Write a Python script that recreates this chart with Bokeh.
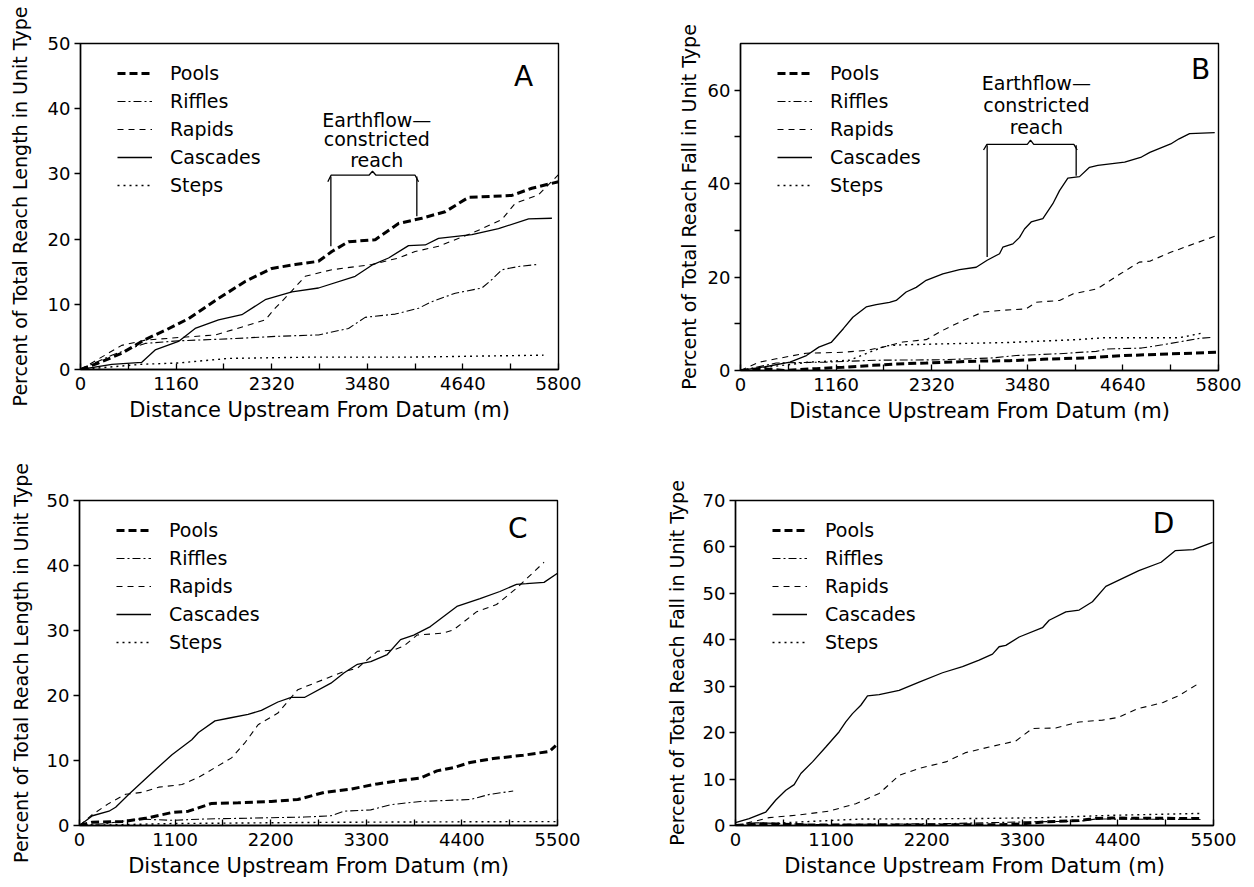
from bokeh.plotting import figure
from bokeh.models import Range1d, FixedTicker, Legend, LegendItem, Label
from bokeh.layouts import column, row
from bokeh.embed import file_html
from bokeh.resources import INLINE
from bokeh.core.properties import value

FONT = "DejaVu Sans"
SERIES = ["Pools", "Riffles", "Rapids", "Cascades", "Steps"]

# ---------------- Panel A: % of total reach length (5800 m reach) -------------
a_pools_x = [0, 218, 502, 785, 1027, 1311, 1675, 1998, 2322, 2605, 2888, 3050, 3252, 3576, 3859, 4142, 4425, 4708, 5234, 5477, 5800]
a_pools_y = [0, 1.0, 2.5, 4.6, 6.0, 7.8, 10.9, 13.5, 15.5, 16.1, 16.6, 18.1, 19.6, 19.9, 22.4, 23.2, 24.2, 26.4, 26.7, 27.8, 28.8]
a_riffles_x = [0, 380, 785, 1189, 1796, 2403, 2888, 3252, 3454, 3819, 4102, 4264, 4547, 4870, 4992, 5113, 5315, 5538]
a_riffles_y = [0, 2.2, 4.0, 4.4, 4.7, 5.1, 5.3, 6.3, 8.0, 8.5, 9.4, 10.4, 11.7, 12.5, 13.8, 15.3, 15.8, 16.1]
a_rapids_x = [0, 500, 785, 1189, 1634, 1877, 2241, 2362, 2524, 2726, 3050, 3535, 3859, 4061, 4344, 4749, 5113, 5275, 5558, 5800]
a_rapids_y = [0, 3.7, 4.5, 4.9, 5.3, 6.2, 7.6, 9.4, 11.5, 14.3, 15.3, 16.1, 17.1, 18.1, 18.9, 20.9, 23.0, 25.5, 26.8, 29.9]
a_casc_x = [0, 380, 744, 906, 1189, 1391, 1675, 1958, 2241, 2565, 2888, 3333, 3535, 3738, 3980, 4183, 4344, 4749, 5072, 5437, 5720]
a_casc_y = [0, 0.8, 1.1, 3.0, 4.3, 6.3, 7.6, 8.4, 10.7, 11.9, 12.5, 14.3, 16.0, 17.1, 19.0, 19.1, 20.1, 20.7, 21.6, 23.1, 23.2]
a_steps_x = [0, 744, 1189, 1796, 2807, 4021, 5619]
a_steps_y = [0, 0.8, 1.0, 1.7, 1.9, 1.9, 2.2]

# ---------------- Panel B: % of total reach fall (5800 m reach) ---------------
b_pools_x = [0, 300, 554, 918, 1242, 1606, 1889, 2253, 2860, 3264, 3669, 4195, 4661, 5781]
b_pools_y = [0, 0.3, 0.0, 0.4, 0.7, 1.1, 1.4, 1.6, 2.0, 2.1, 2.4, 2.7, 3.2, 3.9]
b_riffles_x = [0, 433, 1040, 1646, 2455, 3062, 3345, 3871, 4316, 4447, 4865, 5119, 5577, 5733]
b_riffles_y = [0, 1.6, 1.8, 2.2, 2.3, 2.7, 3.2, 3.6, 4.1, 4.6, 4.8, 5.5, 6.9, 7.1]
b_rapids_x = [0, 230, 433, 797, 1242, 1525, 1727, 1970, 2253, 2455, 2698, 2941, 3183, 3467, 3588, 3871, 4033, 4331, 4610, 4839, 4967, 5220, 5781]
b_rapids_y = [0, 1.8, 2.5, 3.7, 3.9, 4.3, 5.0, 6.1, 6.6, 8.6, 10.7, 12.5, 12.9, 13.2, 14.6, 15.0, 16.4, 17.5, 20.7, 23.2, 23.4, 25.3, 28.9]
b_casc_x = [0, 300, 600, 800, 950, 1100, 1250, 1363, 1525, 1646, 1808, 1889, 2010, 2132, 2253, 2455, 2658, 2860, 2993, 3143, 3183, 3305, 3386, 3446, 3527, 3669, 3790, 3871, 3972, 4114, 4235, 4336, 4661, 4865, 4967, 5220, 5322, 5449, 5754]
b_casc_y = [0, 0.8, 1.8, 3.2, 5.0, 6.0, 9.0, 11.4, 13.6, 14.1, 14.6, 15.0, 16.8, 17.8, 19.3, 20.7, 21.6, 22.1, 23.6, 25.0, 26.4, 27.1, 28.5, 30.3, 31.8, 32.5, 35.7, 38.5, 41.2, 41.5, 43.5, 43.9, 44.6, 45.7, 46.7, 48.5, 49.6, 50.7, 50.9]
b_steps_x = [0, 837, 1323, 1565, 1768, 1970, 2455, 3264, 4073, 4406, 5322, 5628]
b_steps_y = [0, 1.8, 2.2, 3.9, 5.3, 5.5, 5.7, 6.0, 6.6, 7.0, 7.0, 8.1]

# ---------------- Panel C: % of total reach length (5500 m reach) -------------
c_pools_x = [0, 149, 492, 759, 1064, 1254, 1521, 1826, 2207, 2512, 2817, 3122, 3427, 3732, 3922, 4113, 4304, 4494, 4761, 5104, 5406, 5480]
c_pools_y = [0, 0.5, 0.6, 1.1, 2.0, 2.2, 3.4, 3.5, 3.7, 4.0, 5.1, 5.6, 6.4, 7.0, 7.3, 8.4, 8.9, 9.7, 10.3, 10.8, 11.4, 12.3]
c_riffles_x = [0, 301, 682, 1064, 1445, 1826, 2207, 2588, 2893, 3046, 3351, 3579, 3922, 4304, 4494, 4723, 4990]
c_riffles_y = [0, 0.3, 1.0, 0.8, 1.0, 1.1, 1.2, 1.3, 1.5, 2.2, 2.4, 3.2, 3.7, 3.9, 4.0, 4.8, 5.3]
c_rapids_x = [0, 149, 339, 530, 720, 911, 1178, 1369, 1559, 1750, 1902, 2055, 2283, 2512, 2665, 2855, 3046, 3198, 3427, 3617, 3732, 3884, 4189, 4304, 4571, 4799, 5028, 5345]
c_rapids_y = [0, 1.7, 3.4, 4.8, 5.1, 5.9, 6.3, 7.4, 8.9, 10.4, 12.7, 15.5, 17.3, 20.9, 21.7, 22.7, 23.7, 24.2, 26.8, 27.0, 27.6, 29.3, 29.6, 30.1, 32.9, 34.0, 36.5, 40.5]
c_casc_x = [0, 149, 339, 416, 568, 835, 1064, 1292, 1369, 1559, 1712, 1940, 2093, 2283, 2436, 2588, 2893, 3046, 3198, 3351, 3541, 3694, 3846, 4037, 4342, 4609, 4837, 5028, 5142, 5345, 5500]
c_casc_y = [0, 1.5, 2.2, 2.8, 4.8, 8.1, 10.9, 13.2, 14.3, 16.1, 16.5, 17.1, 17.7, 19.0, 19.7, 19.7, 21.9, 23.5, 24.8, 25.2, 26.3, 28.6, 29.3, 30.6, 33.7, 34.9, 36.0, 37.1, 37.2, 37.4, 38.8]
c_steps_x = [0, 1064, 2970, 5104, 5500]
c_steps_y = [0, 0.3, 0.5, 0.6, 0.6]

# ---------------- Panel D: % of total reach fall (5500 m reach) ---------------
d_pools_x = [0, 311, 886, 2036, 3187, 3570, 3954, 4145, 4337, 5350]
d_pools_y = [0, 0.4, 0.1, 0.1, 0.2, 0.8, 1.1, 1.5, 1.6, 1.5]
d_riffles_x = [0, 234, 886, 2420, 3379, 3954, 4145, 5350]
d_riffles_y = [0, 0.6, 0.2, 0.4, 0.8, 0.9, 1.4, 1.3]
d_rapids_x = [0, 196, 387, 694, 1078, 1384, 1653, 1883, 2113, 2420, 2650, 2918, 3225, 3417, 3685, 3954, 4222, 4409, 4619, 4920, 5105, 5338]
d_rapids_y = [0, 0.8, 1.7, 2.2, 3.1, 4.7, 6.9, 10.8, 12.3, 13.7, 15.7, 16.9, 18.2, 20.9, 21.0, 22.3, 22.7, 23.3, 25.1, 26.5, 28.0, 30.7]
d_casc_x = [0, 157, 349, 464, 579, 675, 752, 886, 1039, 1193, 1269, 1346, 1442, 1519, 1653, 1883, 2113, 2382, 2612, 2803, 2957, 3033, 3110, 3264, 3532, 3609, 3801, 3954, 4107, 4261, 4641, 4897, 5059, 5267, 5490]
d_casc_y = [0.6, 1.5, 2.9, 5.5, 7.6, 8.8, 11.2, 13.7, 16.9, 20.2, 22.3, 24.1, 25.9, 27.9, 28.2, 29.1, 30.9, 32.9, 34.2, 35.6, 36.9, 38.5, 38.8, 40.6, 42.6, 44.2, 46.0, 46.4, 48.2, 51.5, 54.9, 56.7, 59.2, 59.4, 61.0]
d_steps_x = [0, 886, 1461, 2803, 3570, 4337, 5338]
d_steps_y = [0, 0.9, 1.4, 1.5, 1.7, 2.2, 2.6]

# ---------------- axes ---------------------------------------------------------
ab_xticks = [0, 1160, 2320, 3480, 4640, 5800]
cd_xticks = [0, 1100, 2200, 3300, 4400, 5500]
a_yticks = [0, 10, 20, 30, 40, 50]
b_yticks = [0, 20, 40, 60]
c_yticks = [0, 10, 20, 30, 40, 50]
d_yticks = [0, 10, 20, 30, 40, 50, 60, 70]
y_len_label = "Percent of Total Reach Length in Unit Type"
y_fall_label = "Percent of Total Reach Fall in Unit Type"
x_label = "Distance Upstream From Datum (m)"

# ---------------- annotations (Earthflow-constricted reach) --------------------
earth_lines = ["Earthflow\u2014", "constricted", "reach"]
a_brace_x = [3001, 3040, 3500, 3543, 3586, 4060, 4102]
a_brace_y = [28.8, 29.8, 29.8, 30.4, 29.8, 29.8, 28.8]
a_lead_x = [3038, 4081]
a_lead_top = [29.6, 29.6]
a_lead_bot = [18.9, 23.5]
a_text_x = 3595
a_text_y = [38.3, 35.3, 32.2]
b_brace_x = [2949, 2990, 3480, 3519, 3558, 4045, 4085]
b_brace_y = [47.2, 48.4, 48.4, 49.3, 48.4, 48.4, 47.2]
b_lead_x = [2993, 4073]
b_lead_top = [48.2, 48.2]
b_lead_bot = [24.3, 41.7]
b_text_x = 3590
b_text_y = [61.5, 56.8, 52.2]

STYLES = {
    "Pools":    dict(line_width=3.0, line_dash="8 4"),
    "Riffles":  dict(line_width=1.1, line_dash="8 3 2 3"),
    "Rapids":   dict(line_width=1.1, line_dash="6 5"),
    "Cascades": dict(line_width=1.3, line_dash="solid"),
    "Steps":    dict(line_width=1.4, line_dash="2 4"),
}

FRAME_W = 478


def make_panel(series, xmax, xticks, ymax, yticks, yminor, ylabel, letter, letter_xy,
               frame_h, left, right, top, bottom, ylab_standoff):
    p = figure(frame_width=FRAME_W, frame_height=frame_h,
               min_border_left=left, min_border_right=right,
               min_border_top=top, min_border_bottom=bottom,
               x_range=Range1d(0, xmax), y_range=Range1d(0, ymax),
               toolbar_location=None, output_backend="svg",
               background_fill_color="white", border_fill_color="white")
    p.outline_line_color = "black"
    p.outline_line_width = 1.4
    p.xgrid.visible = False
    p.ygrid.visible = False

    xminor = [(xticks[i] + xticks[i + 1]) / 2 for i in range(len(xticks) - 1)]
    p.xaxis.ticker = FixedTicker(ticks=xticks, minor_ticks=xminor)
    p.yaxis.ticker = FixedTicker(ticks=yticks, minor_ticks=yminor)
    for ax in (p.xaxis[0], p.yaxis[0]):
        ax.axis_line_color = "black"
        ax.axis_line_width = 1.4
        ax.major_tick_line_color = "black"
        ax.minor_tick_line_color = "black"
        ax.major_tick_line_width = 1.3
        ax.minor_tick_line_width = 1.3
        ax.major_label_text_font = FONT
        ax.major_label_text_font_size = "18px"
        ax.major_label_text_color = "black"
        ax.axis_label_text_font = FONT
        ax.axis_label_text_font_style = "normal"
        ax.axis_label_text_color = "black"
    xa = p.xaxis[0]
    xa.major_tick_in = 6
    xa.major_tick_out = 0
    xa.minor_tick_in = 6
    xa.minor_tick_out = 0
    xa.major_label_standoff = 7
    xa.axis_label = x_label
    xa.axis_label_text_font_size = "21px"
    xa.axis_label_standoff = 5
    ya = p.yaxis[0]
    ya.major_tick_in = 0
    ya.major_tick_out = 6
    ya.minor_tick_in = 0
    ya.minor_tick_out = 6
    ya.major_label_standoff = 4
    ya.axis_label = ylabel
    ya.axis_label_text_font_size = "19px"
    ya.axis_label_standoff = ylab_standoff

    items = []
    for name, (xs, ys) in zip(SERIES, series):
        r = p.line(xs, ys, line_color="black", **STYLES[name])
        items.append(LegendItem(label=name, renderers=[r]))

    n = len(items)
    item_h, gap = 22, 6
    leg_h = n * item_h + (n - 1) * gap
    legend = Legend(items=items, location=(37, frame_h - 19 - leg_h),
                    orientation="vertical", padding=0, margin=0, spacing=gap,
                    glyph_width=35, glyph_height=20, label_height=20,
                    label_standoff=18, label_text_font=FONT,
                    label_text_font_size="19px", label_text_color="black",
                    border_line_alpha=0, background_fill_alpha=0)
    p.add_layout(legend, "center")

    p.add_layout(Label(x=letter_xy[0], y=letter_xy[1], text=letter,
                       text_font=FONT, text_font_size="28px", text_color="black",
                       text_align="center", text_baseline="middle"))
    return p


def add_earthflow(p, brace_x, brace_y, lead_x, lead_top, lead_bot, text_x, text_y):
    p.line(brace_x, brace_y, line_color="black", line_width=1.3)
    p.segment(x0=lead_x, y0=lead_top, x1=lead_x, y1=lead_bot,
              line_color="black", line_width=1.3)
    p.text(x=[text_x] * len(earth_lines), y=text_y, text=earth_lines,
           text_font=value(FONT), text_font_size="19px", text_color="black",
           text_align="center", text_baseline="middle")


pA = make_panel([(a_pools_x, a_pools_y), (a_riffles_x, a_riffles_y), (a_rapids_x, a_rapids_y),
                 (a_casc_x, a_casc_y), (a_steps_x, a_steps_y)],
                5800, ab_xticks, 50, a_yticks, [], y_len_label, "A", (5375, 44.9),
                326, 80, 50, 42, 60, 14)
add_earthflow(pA, a_brace_x, a_brace_y, a_lead_x, a_lead_top, a_lead_bot, a_text_x, a_text_y)

pB = make_panel([(b_pools_x, b_pools_y), (b_riffles_x, b_riffles_y), (b_rapids_x, b_rapids_y),
                 (b_casc_x, b_casc_y), (b_steps_x, b_steps_y)],
                5800, ab_xticks, 70, b_yticks, [10, 30, 50], y_fall_label, "B", (5582, 64.4),
                327, 132, 28, 43, 58, 5)
add_earthflow(pB, b_brace_x, b_brace_y, b_lead_x, b_lead_top, b_lead_bot, b_text_x, b_text_y)

pC = make_panel([(c_pools_x, c_pools_y), (c_riffles_x, c_riffles_y), (c_rapids_x, c_rapids_y),
                 (c_casc_x, c_casc_y), (c_steps_x, c_steps_y)],
                5500, cd_xticks, 50, c_yticks, [], y_len_label, "C", (5043, 45.7),
                325, 79, 50, 69, 53, 12)

pD = make_panel([(d_pools_x, d_pools_y), (d_riffles_x, d_riffles_y), (d_rapids_x, d_rapids_y),
                 (d_casc_x, d_casc_y), (d_steps_x, d_steps_y)],
                5500, cd_xticks, 70, d_yticks, [], y_fall_label, "D", (4925, 65.0),
                325, 128, 30, 72, 50, 12)

layout = column(row(pA, pB), row(pC, pD))
open("out.html", "w").write(file_html(layout, INLINE))
